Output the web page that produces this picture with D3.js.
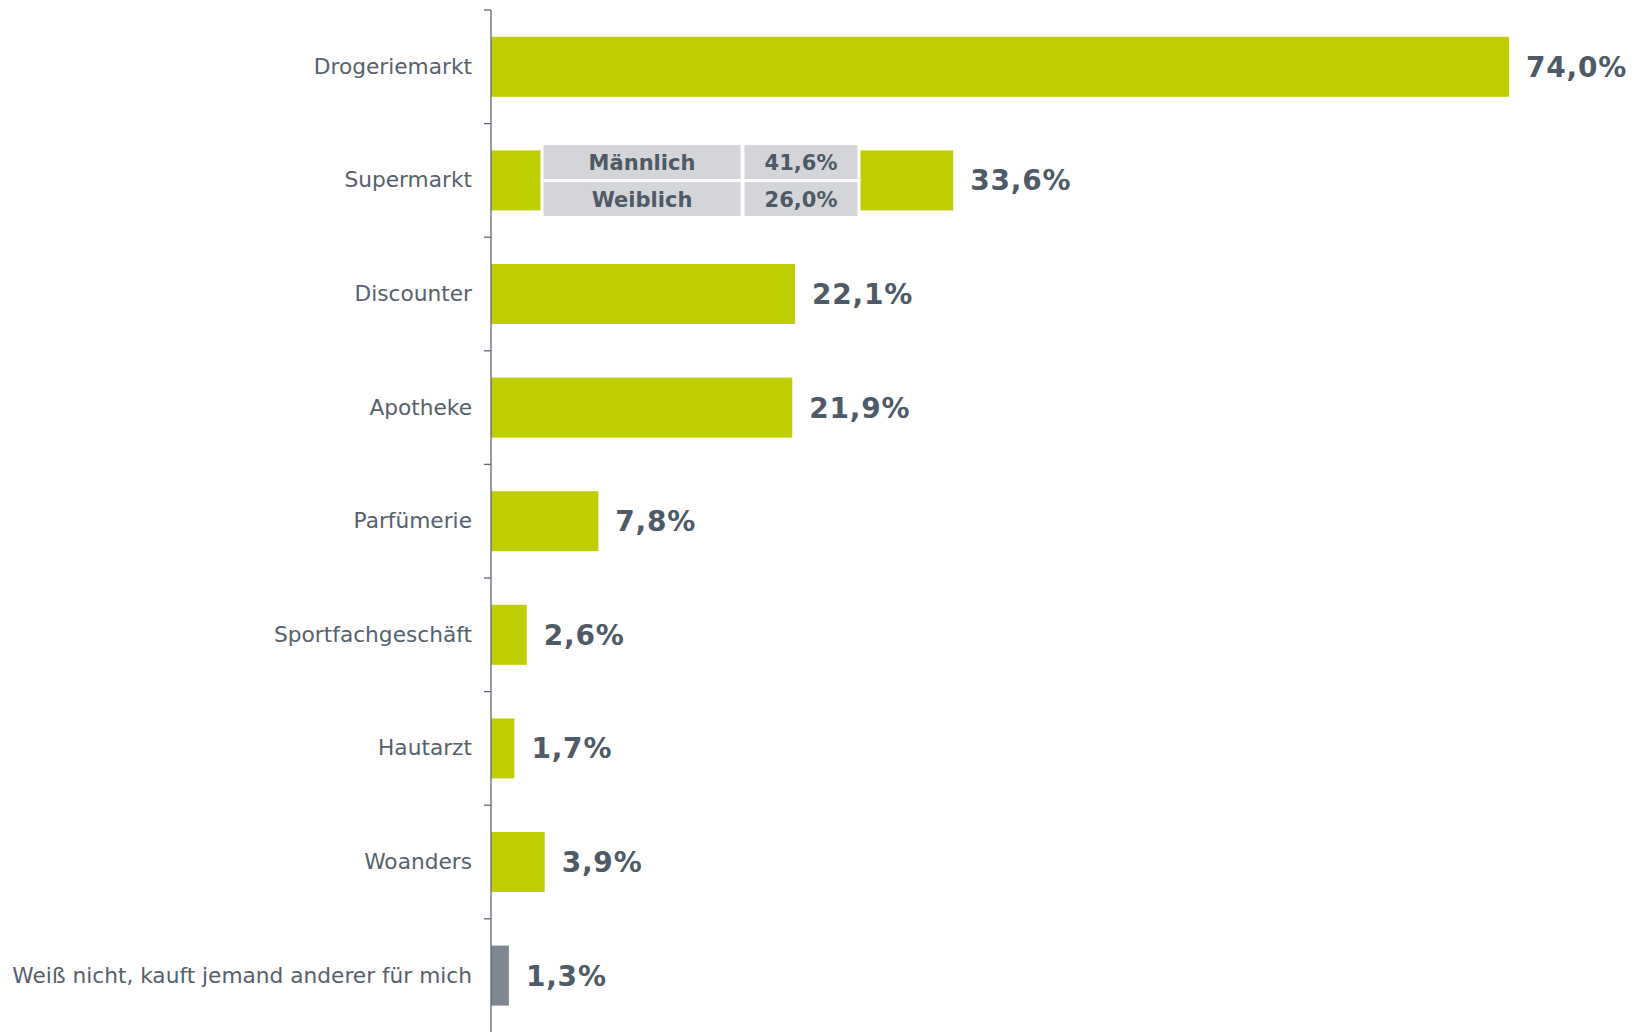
<!DOCTYPE html>
<html>
<head>
<meta charset="utf-8">
<script src="https://cdn.jsdelivr.net/npm/d3@7"></script>
<style>
  body { margin: 0; background: #fff; }
  svg { display: block; font-family: "DejaVu Sans", Verdana, sans-serif; }
</style>
</head>
<body>
<svg id="chart" width="1638" height="1032"></svg>
<script>
const categories = ['Drogeriemarkt', 'Supermarkt', 'Discounter', 'Apotheke', 'Parfümerie',
    'Sportfachgeschäft', 'Hautarzt', 'Woanders', 'Weiß nicht, kauft jemand anderer für mich'];
const values = [74.0, 33.6, 22.1, 21.9, 7.8, 2.6, 1.7, 3.9, 1.3];
const grayCategories = ['Weiß nicht, kauft jemand anderer für mich'];

// gender split shown over the Supermarkt bar
const genderLabels = ['Männlich', 'Weiblich'];
const genderValues = [41.6, 26.0];

const colors = {
    bar: '#bfce00',
    grayBar: '#7f8891',
    text: '#56616c',
    value: '#4e5a66',
    axis: '#5c6772',
    cell: '#d4d5d9'
};

const de = d3.formatLocale({decimal: ',', thousands: '.', grouping: [3], currency: ['', ' €']});
const fmt = v => de.format('.1f')(v) + '%';

const svg = d3.select('#chart');
const left = 491;

const x = d3.scaleLinear().domain([0, 74]).range([left, 1509]);
const y = d3.scaleBand().domain(categories).range([10, 1032.4])
    .paddingInner(0.472).paddingOuter(0.236);
const step = y.step();
const half = y.paddingInner() * step / 2;

// bars
svg.selectAll('.bar')
    .data(categories)
    .enter()
    .append('rect')
    .attr('class', 'bar')
    .attr('x', x(0))
    .attr('y', d => y(d))
    .attr('width', (d, i) => x(values[i]) - x(0))
    .attr('height', y.bandwidth())
    .attr('fill', d => grayCategories.includes(d) ? colors.grayBar : colors.bar);

// value labels
svg.selectAll('.value')
    .data(categories)
    .enter()
    .append('text')
    .attr('class', 'value')
    .attr('x', (d, i) => x(values[i]) + 17)
    .attr('y', d => y(d) + y.bandwidth() / 2)
    .attr('dy', '0.36em')
    .attr('font-size', 28)
    .attr('font-weight', 'bold')
    .attr('letter-spacing', 0.8)
    .attr('fill', colors.value)
    .text((d, i) => fmt(values[i]));

// axis with category labels, ticks sit on band edges
const axis = svg.append('g')
    .attr('transform', `translate(${left},0)`)
    .call(d3.axisLeft(y).tickSize(0).tickPadding(19));
axis.select('.domain').remove();
axis.selectAll('text')
    .attr('font-size', 21.7)
    .attr('font-family', '"DejaVu Sans", Verdana, sans-serif')
    .attr('fill', colors.text);

svg.append('line')
    .attr('x1', left).attr('x2', left)
    .attr('y1', y(categories[0]) - half).attr('y2', 1032)
    .attr('stroke', colors.axis).attr('stroke-width', 1.3);

svg.selectAll('.edge')
    .data(categories)
    .enter()
    .append('line')
    .attr('class', 'edge')
    .attr('x1', left - 7).attr('x2', left)
    .attr('y1', d => y(d) - half).attr('y2', d => y(d) - half)
    .attr('stroke', colors.axis).attr('stroke-width', 1.3);

// gender table overlaid on the Supermarkt bar
const tableCols = [{x: 542, w: 200}, {x: 743, w: 116}];
const rowTop = 143.5, rowH = 37;
const table = svg.append('g');
genderLabels.forEach((g, i) => {
    const cells = [g, fmt(genderValues[i])];
    cells.forEach((t, j) => {
        const c = tableCols[j];
        table.append('rect')
            .attr('x', c.x).attr('y', rowTop + i * rowH)
            .attr('width', c.w).attr('height', rowH)
            .attr('fill', colors.cell)
            .attr('stroke', '#fff').attr('stroke-width', 3);
        table.append('text')
            .attr('x', c.x + c.w / 2)
            .attr('y', rowTop + i * rowH + rowH / 2)
            .attr('dy', '0.36em')
            .attr('text-anchor', 'middle')
            .attr('font-size', 21)
            .attr('font-weight', 'bold')
            .attr('fill', colors.value)
            .text(t);
    });
});
</script>
</body>
</html>
